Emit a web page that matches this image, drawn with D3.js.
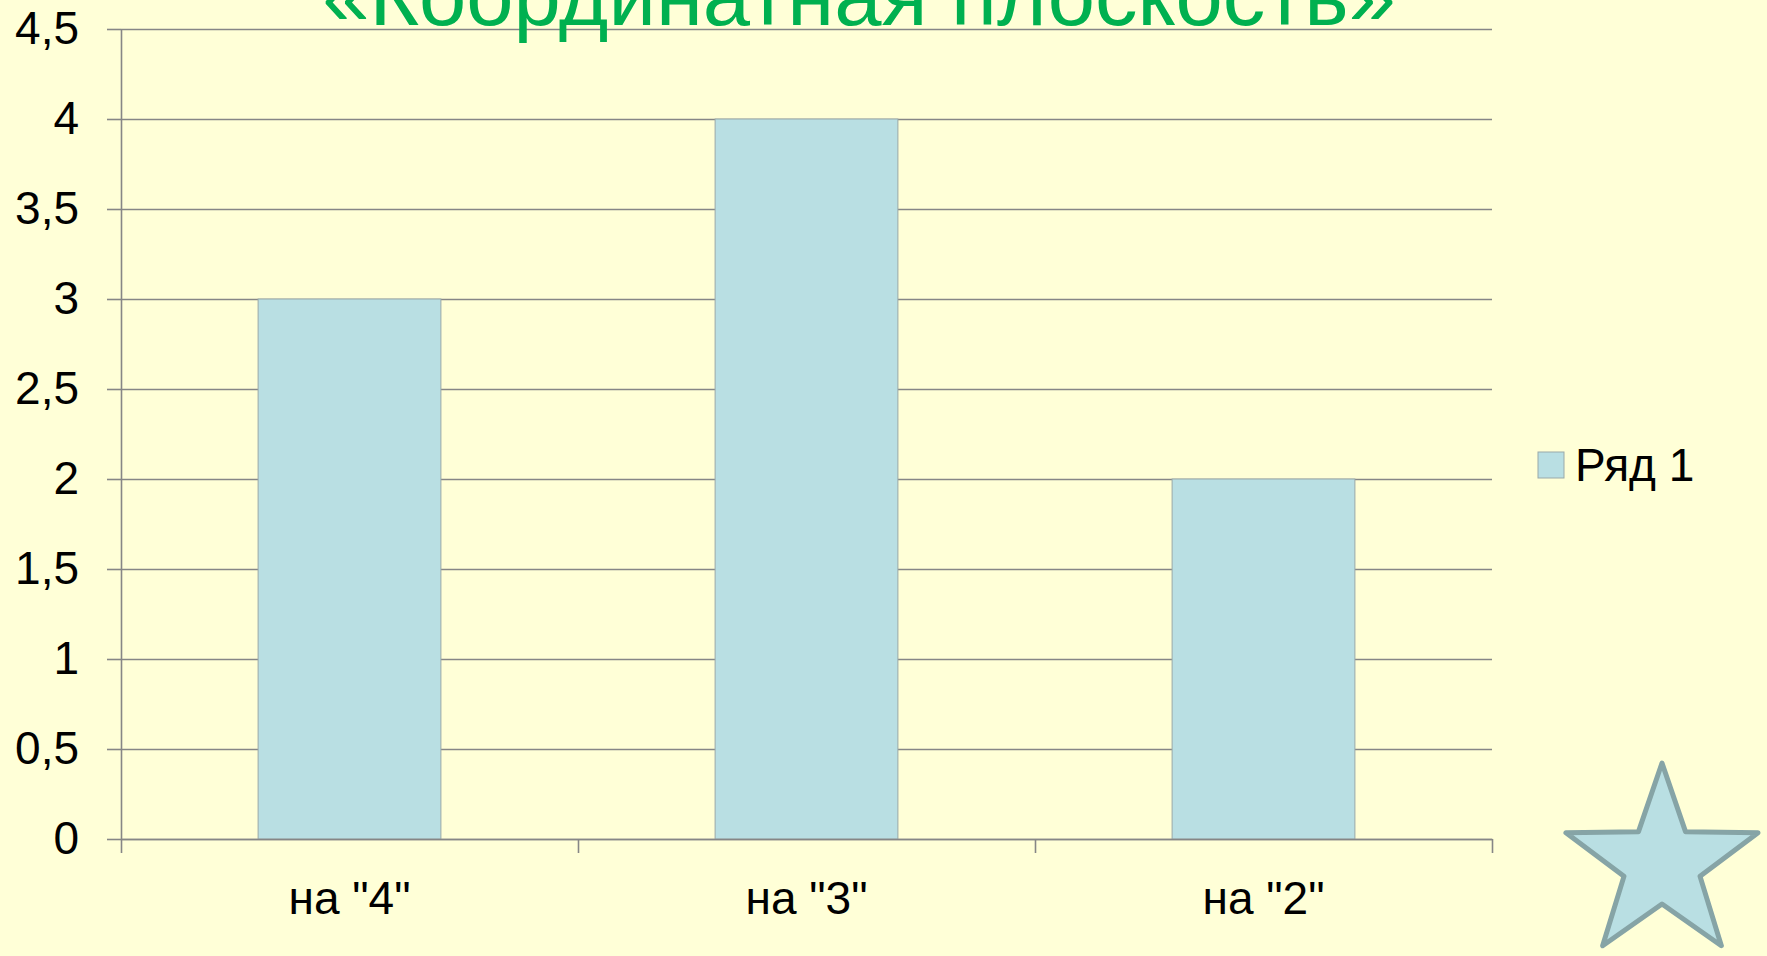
<!DOCTYPE html>
<html lang="ru">
<head>
  <meta charset="UTF-8">
  <title>Координатная плоскость</title>
  <script src="https://d3js.org/d3.v7.min.js"></script>
  <style>
    body {
      margin: 0;
      background: #ffffd7;
      font-family: "Liberation Sans", Arial, sans-serif;
    }
    svg { display: block; }
    .title { fill: #00b050; font-size: 85px; text-anchor: middle; }
    .axis text { font-size: 46px; fill: #000; font-family: "Liberation Sans", Arial, sans-serif; }
    .axis path, .axis line { stroke: #868686; stroke-width: 1.6; }
    .grid line { stroke: #868686; stroke-width: 1.6; }
    .grid path { display: none; }
    .bar { fill: #b9dfe3; stroke: #9aa9a9; stroke-width: 1; }
  </style>
</head>
<body>
<svg width="1767" height="956"></svg>

<script>
  // data
  const categories = ['на "4"', 'на "3"', 'на "2"'];
  const values = [3, 4, 2];
  const seriesName = "Ряд 1";
  const yTicks = [0, 0.5, 1, 1.5, 2, 2.5, 3, 3.5, 4, 4.5];
  const title = "«Координатная плоскость»";

  const svg = d3.select("svg"),
        margin = {top: 29, right: 275, bottom: 117, left: 121},
        width = +svg.attr("width") - margin.left - margin.right,
        height = +svg.attr("height") - margin.top - margin.bottom;

  const chart = svg.append("g")
      .attr("transform", `translate(${margin.left},${margin.top})`);

  const x = d3.scaleBand()
      .domain(categories)
      .range([0, width])
      .paddingInner(0.6)
      .paddingOuter(0.3);

  // band edges for the category ticks
  const xEdge = d3.scaleLinear()
      .domain([0, categories.length])
      .range([0, width]);

  const y = d3.scaleLinear()
      .domain([0, 4.5])
      .range([height, 0]);

  const ru = d3.formatLocale({decimal: ",", thousands: " ", grouping: [3], currency: ["", ""]});
  const fmt = ru.format("~g");

  // Grid lines
  chart.append("g")
      .attr("class", "grid")
      .call(d3.axisLeft(y).tickValues(yTicks).tickSize(-width).tickFormat(""));

  // Bars
  chart.selectAll(".bar")
      .data(values)
      .enter()
      .append("rect")
      .attr("class", "bar")
      .attr("x", (d, i) => x(categories[i]))
      .attr("y", d => y(d))
      .attr("width", x.bandwidth())
      .attr("height", d => height - y(d));

  // Y-axis
  chart.append("g")
      .attr("class", "axis")
      .call(d3.axisLeft(y).tickValues(yTicks).tickSize(14).tickSizeOuter(0)
        .tickPadding(28).tickFormat(fmt));

  // X-axis (line + ticks at band edges)
  chart.append("g")
      .attr("class", "axis")
      .attr("transform", `translate(0,${height})`)
      .call(d3.axisBottom(xEdge).tickValues(d3.range(categories.length + 1))
        .tickSize(14).tickSizeOuter(0).tickFormat(""));

  // X labels
  chart.append("g")
      .attr("class", "axis")
      .attr("transform", `translate(0,${height})`)
      .call(d3.axisBottom(x).tickSize(0).tickPadding(42))
      .call(g => g.select(".domain").remove());

  // Title
  svg.append("text")
      .attr("class", "title")
      .attr("x", 859)
      .attr("y", 25)
      .text(title);

  // Legend
  const legend = svg.append("g")
      .attr("transform", `translate(${margin.left + width + 46},465)`);
  legend.append("rect")
      .attr("class", "bar")
      .attr("x", 0).attr("y", -13)
      .attr("width", 26).attr("height", 26);
  legend.append("text")
      .attr("x", 37)
      .attr("dy", "0.35em")
      .style("font-size", "46px")
      .text(seriesName);

  // Star decoration
  const cx = 1662, cy = 864, R = 101, r = 40;
  const starPts = d3.range(10).map(i => {
    const a = -Math.PI / 2 + i * Math.PI / 5;
    const rad = i % 2 ? r : R;
    return [cx + rad * Math.cos(a), cy + rad * Math.sin(a)];
  });
  svg.append("path")
      .attr("d", d3.line()(starPts) + "Z")
      .attr("fill", "#b9dfe3")
      .attr("stroke", "#86a4a6")
      .attr("stroke-width", 5)
      .attr("stroke-linejoin", "round");
</script>

</body>
</html>
